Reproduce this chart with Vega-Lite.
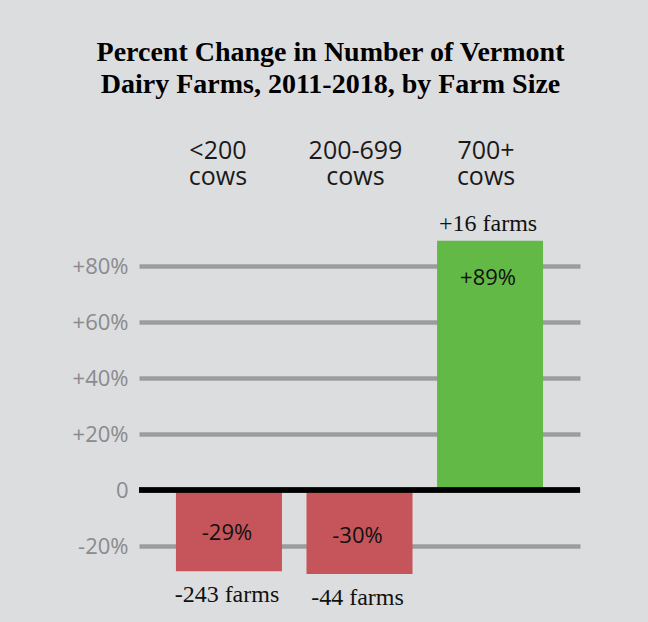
{
  "$schema": "https://vega.github.io/schema/vega-lite/v6.json",
  "width": 441,
  "height": 392,
  "autosize": "none",
  "padding": {"left": 139, "top": 210, "right": 68, "bottom": 20},
  "background": "#dcdddf",
  "config": {"view": {"stroke": null}},
  "title": {
    "text": ["Percent Change in Number of Vermont", "Dairy Farms, 2011-2018, by Farm Size"],
    "font": "Liberation Serif",
    "fontSize": 28,
    "fontWeight": "bold",
    "color": "#000000",
    "lineHeight": 32,
    "anchor": "middle",
    "dx": -29,
    "offset": 39
  },
  "data": {
    "values": [
      {"size": "<200 cows", "pct": -29, "pctLabel": "-29%", "farmsLabel": "-243 farms"},
      {"size": "200-699 cows", "pct": -30, "pctLabel": "-30%", "farmsLabel": "-44 farms"},
      {"size": "700+ cows", "pct": 89, "pctLabel": "+89%", "farmsLabel": "+16 farms"}
    ]
  },
  "encoding": {
    "x": {
      "field": "size",
      "type": "nominal",
      "sort": null,
      "scale": {"paddingInner": 0.188, "paddingOuter": 0.283},
      "axis": {
        "orient": "top",
        "title": null,
        "domain": false,
        "ticks": false,
        "labelAngle": 0,
        "labelFont": "Open Sans",
        "labelFontSize": 25,
        "labelColor": "#1a1a1a",
        "labelLineHeight": 26.5,
        "labelPadding": 47,
        "labelExpr": "split(datum.label, ' ')",
        "labelOffset": {"condition": {"test": "datum.value == '<200 cows'", "value": -11}, "value": -4}
      }
    },
    "y": {
      "field": "pct",
      "type": "quantitative",
      "scale": {"domain": [-40, 100], "nice": false, "zero": false},
      "axis": {
        "title": null,
        "values": [-20, 0, 20, 40, 60, 80],
        "domain": false,
        "ticks": false,
        "grid": true,
        "gridColor": "#9b9c9e",
        "gridWidth": 4.5,
        "labelFont": "Open Sans",
        "labelFontSize": 22,
        "labelColor": "#8a8b8d",
        "labelPadding": 11,
        "labelExpr": "datum.value > 0 ? '+' + datum.value + '%' : (datum.value == 0 ? '0' : datum.value + '%')"
      }
    }
  },
  "layer": [
    {
      "mark": {"type": "bar"},
      "encoding": {
        "color": {"condition": {"test": "datum.pct < 0", "value": "#c5555a"}, "value": "#62b946"}
      }
    },
    {
      "mark": {"type": "rule", "color": "#000000", "strokeWidth": 5},
      "encoding": {"y": {"datum": 0}, "x": {"value": 0}, "x2": {"value": 441}}
    },
    {
      "transform": [{"filter": "datum.pct < 0"}],
      "mark": {"type": "text", "font": "Open Sans", "fontSize": 22, "color": "#111111", "baseline": "middle", "dy": -38, "dx": -2},
      "encoding": {"text": {"field": "pctLabel"}}
    },
    {
      "transform": [{"filter": "datum.pct >= 0"}],
      "mark": {"type": "text", "font": "Open Sans", "fontSize": 22, "color": "#111111", "baseline": "middle", "dy": 37, "dx": -2},
      "encoding": {"text": {"field": "pctLabel"}}
    },
    {
      "transform": [{"filter": "datum.pct < 0"}],
      "mark": {"type": "text", "font": "Liberation Serif", "fontSize": 24, "color": "#111111", "baseline": "middle", "dy": 24, "dx": -2},
      "encoding": {"text": {"field": "farmsLabel"}}
    },
    {
      "transform": [{"filter": "datum.pct >= 0"}],
      "mark": {"type": "text", "font": "Liberation Serif", "fontSize": 24, "color": "#111111", "baseline": "middle", "dy": -17, "dx": -2},
      "encoding": {"text": {"field": "farmsLabel"}}
    }
  ]
}
